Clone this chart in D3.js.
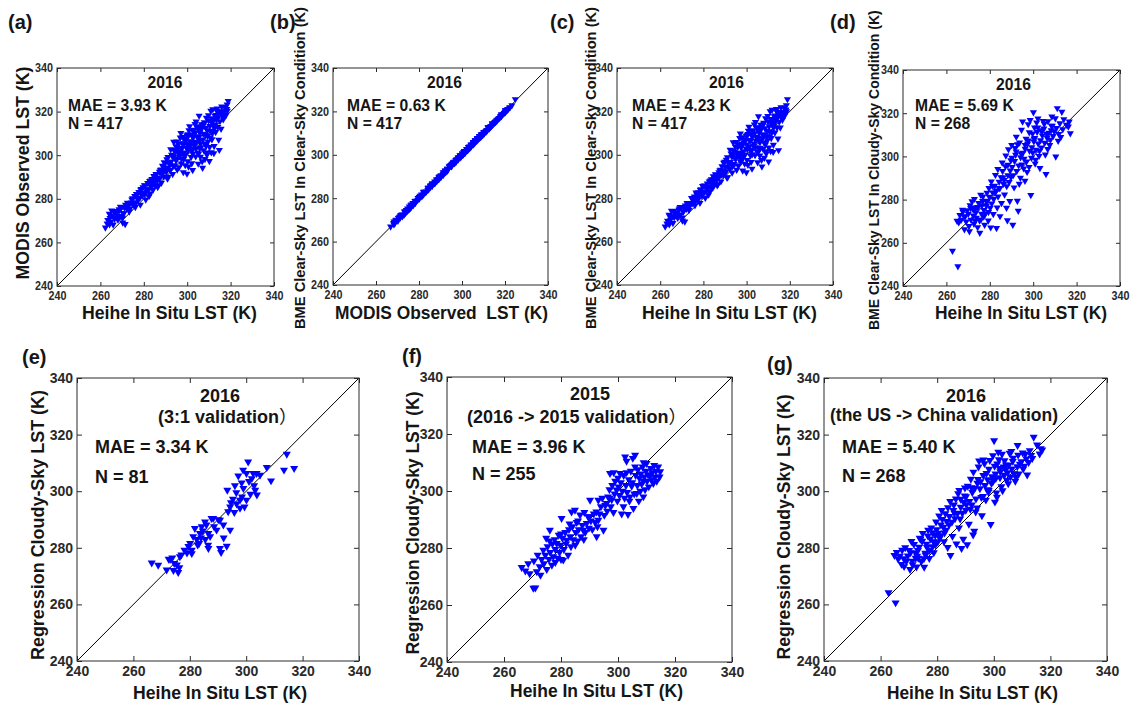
<!DOCTYPE html>
<html>
<head>
<meta charset="utf-8">
<script src="https://cdn.jsdelivr.net/npm/d3@7"></script>
<style>
  body { margin: 0; background: #fff; }
  svg { display: block; }
</style>
</head>
<body>
<svg id="fig" width="1131" height="706"></svg>
<script>
// ---------------- data ----------------
const axisDomain = [240, 340];
const tickValues = [240, 260, 280, 300, 320, 340];

// Clear-sky 2016 matchups (N = 417): in situ, MODIS and BME clear-sky LST (K)
const clearInSitu = [262.3,263.4,264.1,264.8,265.5,266.2,265.9,267.3,266.7,268.1,
  268.6,269.4,268.9,270.2,269.7,271.4,270.8,272.1,271.6,273.3,
  272.7,274.2,273.6,275.1,274.5,276.3,275.8,277.4,276.6,278.2,
  277.7,279.3,278.8,280.4,279.6,280.9,281.2,280.6,282.3,281.8,
  283.4,282.9,284.1,283.7,285.3,284.6,286.2,285.8,287.4,286.7,
  288.3,287.9,289.2,288.6,290.4,289.8,290.9,291.3,290.6,292.2,
  291.7,292.8,293.3,292.6,293.9,294.2,293.7,294.8,295.4,294.9,
  295.7,295.2,296.4,295.9,296.8,296.2,297.3,296.7,297.8,297.1,
  298.4,297.6,298.9,298.2,299.3,298.7,299.8,299.1,300.4,299.6,
  300.8,300.2,299.9,301.3,300.7,301.8,301.1,302.4,301.9,302.7,
  302.1,303.2,302.8,303.6,303.9,302.5,304.3,303.7,304.8,304.1,
  305.4,304.9,305.7,305.1,306.2,305.8,306.6,306.1,305.5,307.3,
  306.8,307.6,307.1,308.4,307.9,308.7,308.2,309.3,308.8,309.6,
  309.1,310.4,309.8,310.7,310.2,311.3,310.9,311.6,311.1,312.2,
  311.8,312.6,312.4,313.3,312.9,313.7,314.2,313.8,314.5,315.3,
  314.8,315.6,316.2,315.9,317.1,316.6,318.2,317.8,318.9,318.5,
  284.3,286.4,288.1,291.2,293.4,296.5,298.3,289.5,287.2,285.1,
  283.2,276.1,278.4,270.3,264.2,282.4,300.1,302.3,304.6,297.4,
  294.5,295.3,296.1,296.6,297.2,297.9,298.5,299.2,299.7,300.3,
  300.6,301.2,301.6,302.2,302.6,303.1,303.4,304.1,304.4,304.9,
  305.3,305.6,306.3,306.4,306.9,307.4,307.7,308.1,308.5,308.9,
  309.4,309.9,310.3,310.6,311.2,311.4,312.1,312.3,312.8,313.1,
  313.5,314.1,314.4,315.1,315.8,316.4,317.3,317.6,318.4,
  263.1,264.4,265.2,266.5,267.8,268.3,269.2,270.6,271.1,272.4,
  273.1,274.8,275.4,276.9,277.3,278.6,279.1,280.3,281.5,282.7,
  283.8,284.9,285.6,286.4,287.6,288.9,289.4,290.2,291.1,291.9,
  292.4,293.2,293.8];
const clearModis = [266.8,270.2,273.1,269.4,272.3,274.4,268.2,271.5,273.6,270.4,
  275.2,272.1,274.7,271.3,276.1,268.4,273.3,275.6,277.2,274.1,
  276.4,278.3,275.5,277.2,279.6,278.1,281.3,279.4,282.2,280.5,
  283.1,281.4,284.5,282.2,285.3,279.6,283.4,286.1,284.3,287.2,
  285.4,282.3,287.5,289.1,286.2,290.4,288.3,291.2,289.4,286.1,
  291.3,293.4,290.2,295.1,292.4,296.3,289.2,294.3,298.1,293.2,
  296.4,300.2,291.3,297.1,302.4,295.3,299.2,304.1,293.4,297.5,
  301.2,306.3,299.4,303.2,308.1,294.4,296.2,301.3,305.4,310.2,
  298.3,303.1,307.4,292.2,300.4,305.3,309.1,295.4,302.2,307.3,
  311.4,297.2,291.5,304.3,309.2,299.1,313.3,302.4,306.2,311.1,
  296.3,304.4,308.2,314.3,299.4,293.2,306.1,310.3,301.2,315.4,
  308.3,312.2,303.4,296.1,305.3,310.4,314.2,299.3,318.1,307.2,
  312.4,302.3,294.2,309.4,315.1,304.3,298.2,311.4,317.2,306.3,
  300.2,313.4,318.3,308.1,297.3,315.2,320.4,310.1,301.3,316.2,
  321.1,312.3,304.2,318.4,314.1,320.2,317.3,321.4,307.1,319.2,
  302.4,312.1,318.2,322.3,320.1,316.4,321.2,318.3,324.8,320.4,
  284.2,285.4,287.3,290.1,295.2,301.4,300.3,293.1,292.4,288.2,
  288.4,276.2,277.3,269.1,268.3,281.2,305.1,309.3,313.2,298.4,
  301.8,298.6,305.2,300.7,303.4,308.3,301.2,306.8,303.3,309.6,
  294.8,306.4,302.8,308.9,300.6,311.7,305.6,303.1,308.7,312.6,
  300.8,306.9,311.8,303.6,297.2,309.8,314.3,305.3,312.6,301.2,
  308.8,315.8,303.7,311.2,316.9,307.3,313.6,300.9,318.1,310.6,
  316.2,312.9,319.6,315.6,320.1,317.9,322.1,318.4,323.2,
  268.7,271.2,274.6,270.8,273.9,272.1,276.3,273.4,275.9,278.2,
  277.4,280.2,278.4,282.1,280.1,284.1,282.6,286.2,284.4,288.1,
  286.3,289.2,291.4,289.7,293.1,292.2,296.7,294.1,299.2,295.8,
  302.7,299.6,306.1];
const clearBme = [266.9,269.6,272.4,270.1,271.6,274.1,268.5,272.2,273.1,270.9,
  274.6,272.4,275.2,271.1,275.7,269.2,273.9,275.1,276.6,274.5,
  277.1,277.8,276.2,277.6,280.1,278.7,280.8,279.1,282.6,281.1,
  282.7,281.2,284.1,282.8,285.6,280.1,283.1,285.7,284.8,286.8,
  285.1,282.9,287.1,288.7,286.7,290.1,288.6,290.8,289.9,286.4,
  290.9,293.1,290.6,294.7,292.1,296.8,289.5,294.6,297.7,293.6,
  296.1,300.6,291.8,296.8,302.1,295.7,299.7,303.8,293.1,297.9,
  300.8,305.9,299.1,303.6,307.7,294.9,296.6,300.9,305.1,309.8,
  298.7,303.6,307.1,292.7,300.1,305.7,308.8,295.9,302.6,306.9,
  311.1,297.6,291.9,303.9,309.6,299.6,312.9,302.1,306.6,310.7,
  296.7,304.1,308.6,313.9,299.8,293.6,306.5,309.9,301.6,315.1,
  307.9,312.6,303.1,296.5,305.7,310.1,313.8,299.7,317.7,307.6,
  312.1,302.7,294.6,309.1,314.7,304.7,298.6,311.1,316.8,306.7,
  300.6,313.1,317.9,308.5,296.9,314.8,320.1,310.5,301.7,315.8,
  320.7,312.7,304.6,318.1,314.5,320.6,316.9,321.1,307.5,318.8,
  302.1,312.5,317.8,321.9,319.7,316.1,320.8,318.7,325.6,320.1,
  284.7,285.9,287.7,289.6,294.8,300.9,299.8,292.7,291.9,288.6,
  288.1,276.7,277.8,269.7,267.9,281.7,304.7,308.9,312.7,298.1,
  301.5,298.9,304.8,300.3,303.8,308.1,301.6,306.4,302.9,309.2,
  295.3,306.8,302.4,309.3,300.2,311.3,305.2,303.5,308.3,312.2,
  301.2,306.5,311.4,303.2,297.6,309.4,313.9,305.7,312.2,301.6,
  308.4,315.4,303.3,310.8,316.5,307.7,313.2,301.3,317.7,310.2,
  315.8,312.5,319.2,315.2,319.7,317.5,321.7,318.0,322.8,
  268.3,271.6,274.2,271.2,273.5,272.5,275.9,273.8,275.5,277.8,
  277.0,279.8,278.8,281.7,280.5,283.7,283.0,285.8,284.8,287.7,
  286.7,288.8,291.0,290.1,292.7,292.6,296.3,294.5,298.8,296.2,
  302.3,299.2,305.7];

// Cloudy-sky 2016 matchups (N = 268): in situ, BME clear-sky and regression cloudy-sky LST (K)
const cloudyInSitu = [262.8,265.3,264.9,266.2,265.7,267.4,266.8,268.3,267.6,269.1,
  268.7,270.4,269.6,270.9,271.3,270.6,272.4,271.8,272.7,273.2,
  273.8,272.9,274.4,273.6,274.9,275.3,274.7,275.8,275.4,276.2,
  276.7,275.9,277.3,276.8,277.6,278.4,277.9,278.7,279.3,278.8,
  279.6,280.2,279.8,280.7,280.4,281.3,280.9,281.6,282.2,281.8,
  282.6,283.4,282.9,283.7,283.1,284.3,283.8,284.7,285.2,284.6,
  285.7,285.4,286.3,285.9,286.8,287.2,286.6,287.7,287.4,288.3,
  287.8,288.6,288.1,289.4,288.9,289.7,289.2,290.3,289.8,290.6,
  290.1,291.4,290.8,291.7,291.2,292.4,291.9,292.7,292.2,293.3,
  292.8,293.6,293.1,294.2,293.7,294.6,294.1,295.3,294.8,295.6,
  295.1,296.3,295.8,296.7,296.2,297.4,296.9,297.7,297.2,298.3,
  297.8,298.6,298.1,299.4,298.9,299.7,299.2,300.3,299.8,300.6,
  300.1,300.9,301.2,300.7,301.6,301.1,302.3,301.8,302.7,302.2,
  303.4,302.9,303.7,303.1,304.2,303.8,304.6,305.3,304.9,305.6,
  305.1,306.4,305.9,306.7,307.2,306.8,307.6,308.3,307.9,308.6,
  309.2,308.8,310.4,309.7,310.2,311.1,310.7,311.5,312.3,311.8,
  313.2,312.7,314.1,313.6,315.3,316.2,317.1,316.6,
  268.2,270.1,271.2,272.4,273.3,274.1,276.4,277.2,278.3,279.4,
  281.2,282.4,284.2,286.1,288.3,290.2,292.1,294.4,296.3,298.2,
  300.4,302.1,304.3,306.2,308.4];
const cloudyBme = [256.3,249.1,270.2,272.8,269.4,275.3,270.6,266.2,274.4,269.8,
  272.3,267.7,275.1,277.4,270.7,265.3,272.6,279.2,268.8,276.3,
  271.6,280.3,267.2,274.1,278.4,270.3,276.5,282.2,264.6,273.4,
  279.3,270.8,275.2,281.4,268.3,277.1,273.4,283.2,270.3,279.1,
  285.3,276.2,281.3,288.4,267.1,283.3,278.2,273.3,286.4,280.2,
  291.4,276.3,284.2,294.1,266.8,288.2,281.4,272.3,290.3,285.2,
  297.1,278.4,287.3,293.2,282.3,295.4,289.1,276.2,300.4,291.3,
  286.2,303.3,270.4,293.4,288.1,298.2,279.3,295.1,290.4,268.3,
  305.2,297.8,291.3,303.9,285.6,293.2,300.7,279.4,309.1,295.8,
  305.6,287.3,274.8,299.6,306.4,312.3,290.1,301.7,296.2,294.4,
  316.1,303.5,298.9,308.2,288.7,305.8,297.6,314.9,292.8,302.6,
  307.3,316.8,295.1,304.2,282.1,310.6,299.3,306.9,301.8,313.4,
  320.4,296.7,303.1,308.5,315.7,298.4,305.9,311.3,300.2,317.5,
  307.4,302.6,311.8,294.6,309.7,304.1,316.4,306.3,312.9,300.8,
  315.1,308.6,291.8,303.4,310.9,316.3,305.2,312.1,307.7,318.4,
  309.4,314.2,299.9,311.6,317.6,322.3,313.1,307.2,315.3,310.4,
  320.6,308.9,317.2,312.5,314.6,313.8,310.7,316.1,
  272.2,273.4,276.1,275.3,270.2,276.4,277.3,272.1,279.4,274.2,
  286.3,283.1,285.4,290.2,296.1,299.3,302.2,301.4,305.3,311.1,
  308.2,313.3,312.1,310.4,314.2];
const cloudyRegression = [264.2,260.6,277.3,276.1,278.4,274.2,277.1,273.4,279.2,275.3,
  280.1,272.4,277.2,282.3,274.1,278.3,276.4,281.2,273.3,279.1,
  283.4,277.1,275.2,280.3,285.1,276.2,282.4,278.1,273.2,281.3,
  284.2,277.4,279.1,286.3,283.2,280.4,287.1,282.2,284.4,278.3,
  289.2,282.1,286.4,291.3,285.2,288.1,283.4,293.2,287.3,290.1,
  285.3,289.4,292.1,280.2,286.3,291.1,294.2,277.3,289.1,296.4,
  293.2,284.1,290.3,295.2,281.4,292.2,297.3,287.1,299.2,294.4,
  300.3,279.8,290.2,296.1,292.3,298.4,283.1,295.3,301.2,281.1,
  293.3,296.4,301.8,293.7,288.4,299.6,304.3,284.6,295.2,301.1,
  306.8,292.7,285.9,302.9,297.3,308.6,294.1,303.4,310.7,297.8,
  300.9,305.6,291.4,309.8,298.2,306.3,302.1,300.6,296.9,307.8,
  304.1,310.9,299.7,305.2,288.3,312.6,302.8,308.9,303.6,306.1,
  317.9,299.4,309.7,304.5,313.8,297.9,306.9,311.2,301.6,304.8,
  308.6,313.1,305.7,300.2,307.6,310.8,303.9,309.2,306.6,313.5,
  302.7,307.9,305.1,310.6,306.2,311.7,303.6,308.7,304.9,312.8,
  309.6,306.1,307.9,310.5,313.6,313.1,308.9,311.4,310.2,305.8,
  312.7,314.4,319.1,311.6,316.4,313.2,314.6,315.1,
  276.2,279.1,275.3,278.2,276.4,283.1,280.2,276.3,285.4,281.1,
  284.3,282.2,288.1,292.3,297.2,298.1,301.3,304.2,311.1,300.3,
  296.2,308.1,309.3,314.1,316.2];

// 3:1 split validation, 2016 (N = 81)
const split31InSitu = [266.5,268.8,271.8,273.0,273.8,274.5,275.4,275.9,276.3,276.5,
  278.1,279.0,280.1,280.7,280.7,281.2,281.8,282.5,282.8,283.3,
  283.6,284.2,284.6,285.4,285.9,286.5,286.6,286.6,287.2,287.7,
  288.3,289.5,290.1,290.7,290.7,291.1,291.9,293.1,293.3,293.6,
  294.3,294.3,294.6,295.3,296.0,296.5,297.2,297.8,297.8,298.4,
  298.5,299.0,299.4,300.1,300.1,300.7,301.0,301.5,302.0,302.5,
  303.2,303.7,303.8,304.9,307.3,308.8,313.4,314.4,317.0,284.0,
  279.5,277.0,272.5,295.8,298.9,296.6,288.6,292.0,274.2,302.8,
  285.5];
const split31Regression = [274.7,273.9,272.2,275.9,276.5,274.5,274.0,271.3,273.0,276.9,
  279.2,278.2,281.6,279.2,278.0,284.0,286.9,283.0,281.0,281.6,
  285.1,287.5,286.0,289.2,288.1,281.0,285.1,279.8,284.0,290.4,
  290.4,286.3,290.0,289.8,279.8,278.4,288.1,280.6,300.4,292.8,
  294.5,286.3,296.0,297.2,302.0,299.5,305.4,296.9,294.0,303.0,
  298.0,301.0,294.5,306.3,296.9,310.4,303.5,299.0,304.5,306.3,
  300.4,306.3,298.7,305.7,308.4,303.7,307.5,313.1,308.1,283.5,
  280.5,277.5,276.0,292.5,307.5,295.5,287.5,283.5,272.0,302.0,
  283.0];

// 2016 -> 2015 transfer validation (N = 255)
const year2015InSitu = [266.2,267.5,268.5,269.0,270.3,271.0,271.5,270.5,271.8,272.5,
  272.8,273.2,273.8,274.0,274.5,275.0,275.3,275.8,276.1,276.2,
  276.8,277.0,277.3,277.8,278.0,278.5,278.8,279.2,279.5,279.8,
  280.0,280.2,280.5,280.8,281.0,281.5,281.8,282.0,282.5,282.8,
  283.2,283.7,283.5,284.0,284.3,284.9,285.2,285.5,285.8,286.2,
  286.7,287.0,287.5,287.8,288.2,288.5,289.0,289.5,289.8,290.2,
  290.5,291.0,291.5,292.0,292.4,292.8,293.1,293.1,293.5,294.0,
  294.5,294.9,295.2,295.5,296.0,296.2,296.5,297.0,297.2,297.5,
  297.8,298.0,298.4,298.8,299.0,299.5,299.8,300.2,300.5,300.7,
  301.0,301.3,301.5,301.9,302.0,302.3,302.5,302.8,303.0,303.2,
  303.5,303.8,304.0,304.2,304.5,304.8,305.0,305.2,305.4,305.7,
  306.0,306.2,306.6,306.8,307.0,307.3,307.5,307.8,308.0,308.3,
  308.6,308.9,308.9,309.2,309.5,309.8,310.0,310.2,310.5,310.8,
  311.2,311.5,311.8,312.0,312.4,312.7,313.0,313.3,313.6,314.1,
  314.6,314.8,278.0,276.0,274.8,285.0,288.0,290.0,292.5,283.0,
  280.0,286.0,297.0,300.0,306.0,309.0,303.0,298.5];
const year2015Regression = [273.2,272.0,274.5,271.0,265.9,266.0,271.7,275.5,277.5,273.5,
  270.5,276.0,279.3,274.5,277.5,272.5,280.5,276.0,286.3,278.5,
  274.0,281.5,277.0,283.0,279.5,281.6,276.5,284.5,278.5,281.0,
  276.0,290.4,283.5,275.8,279.5,285.5,281.5,282.8,277.5,286.5,
  284.0,292.7,280.5,287.5,283.0,293.3,285.5,289.0,282.5,286.5,
  291.6,284.0,288.0,286.3,292.5,285.5,288.7,291.0,287.0,296.8,
  289.5,286.5,292.0,289.0,292.7,287.5,289.8,296.8,292.0,294.5,
  297.5,286.3,291.5,295.0,295.7,293.0,298.0,300.5,306.2,294.5,
  297.0,302.0,292.5,299.0,303.5,300.4,296.5,301.5,298.5,306.2,
  303.0,292.0,300.0,294.5,305.5,297.5,312.0,302.0,306.5,299.5,
  291.8,304.0,296.5,298.0,307.0,301.7,303.0,311.5,293.9,299.0,
  312.6,305.5,299.2,302.0,307.5,296.5,304.5,300.0,306.0,302.5,
  308.5,298.0,303.5,305.0,300.5,307.0,309.7,303.5,305.8,301.5,
  305.3,308.0,304.0,306.5,302.7,309.0,305.0,307.0,303.5,308.5,
  305.0,306.8,275.0,282.5,283.5,281.0,283.0,291.0,284.0,288.5,
  285.0,289.5,297.5,304.5,308.5,310.0,310.5,306.5];

// ---------------- layout ----------------
const FONT = '"Liberation Sans", Arial, Helvetica, sans-serif';
const INK = "#151515";
const MARK = "#0000ff";

const rowStyle = {
  top:    { tickFs: 12, tickSq: 0.9, tickLen: 4, padX: 5.5, padY: 4, innerFs: 17, innerSq: 0.92, labelFs: 18.5, letterFs: 20, marker: 22 },
  bottom: { tickFs: 14, tickSq: 1,   tickLen: 5, padX: 5,   padY: 4, innerFs: 18, innerSq: 1,    labelFs: 18,   letterFs: 20, marker: 28 }
};

const panels = [
  { key: "a", xs: clearInSitu, ys: clearModis, row: "top", box: [57, 68, 274, 286], letter: [8, 29],
    titles: [{ t: "2016", x: 165, y: 88, anchor: "middle" }],
    stats: { x: 68, y1: 111, y2: 129, mae: "MAE = 3.93 K", n: "N = 417" },
    xLabel: { t: "Heihe In Situ LST (K)", cx: 169.5, y: 319, len: 175 },
    yLabel: { t: "MODIS Observed LST (K)", cy: 173, x: 29, len: 213, fs: 18.5 } },
  { key: "b", xs: clearModis, ys: clearBme, row: "top", box: [333, 68, 548, 285], letter: [270, 29],
    titles: [{ t: "2016", x: 444.5, y: 88, anchor: "middle" }],
    stats: { x: 347, y1: 111, y2: 129, mae: "MAE = 0.63 K", n: "N = 417" },
    xLabel: { t: "MODIS Observed  LST (K)", cx: 441.5, y: 319, len: 213 },
    yLabel: { t: "BME Clear-Sky LST In Clear-Sky Condition (K)", cy: 168, x: 305, len: 322, fs: 14 } },
  { key: "c", xs: clearInSitu, ys: clearBme, row: "top", box: [617, 68, 833, 285], letter: [550, 29],
    titles: [{ t: "2016", x: 726.5, y: 88, anchor: "middle" }],
    stats: { x: 632, y1: 111, y2: 129, mae: "MAE = 4.23 K", n: "N = 417" },
    xLabel: { t: "Heihe In Situ LST (K)", cx: 729.5, y: 319, len: 175 },
    yLabel: { t: "BME Clear-Sky LST In Clear-Sky Condition (K)", cy: 168, x: 596, len: 322, fs: 14 } },
  { key: "d", xs: cloudyInSitu, ys: cloudyBme, row: "top", box: [903, 70, 1120, 286], letter: [830, 29],
    titles: [{ t: "2016", x: 1013.5, y: 90, anchor: "middle" }],
    stats: { x: 915, y1: 111, y2: 129, mae: "MAE = 5.69 K", n: "N = 268" },
    xLabel: { t: "Heihe In Situ LST (K)", cx: 1021, y: 319, len: 172 },
    yLabel: { t: "BME Clear-Sky LST In Cloudy-Sky Condition (K)", cy: 170, x: 879, len: 320, fs: 14 } },
  { key: "e", xs: split31InSitu, ys: split31Regression, row: "bottom", box: [77, 378, 359, 661], letter: [22, 364],
    titles: [{ t: "2016", x: 220, y: 402, anchor: "middle" },
             { t: "(3:1 validation", tail: "\uFF09", x: 158, y: 423, anchor: "start" }],
    stats: { x: 95, y1: 453, y2: 483, mae: "MAE = 3.34 K", n: "N = 81" },
    xLabel: { t: "Heihe In Situ LST (K)", cx: 220, y: 699, len: 174 },
    yLabel: { t: "Regression Cloudy-Sky LST (K)", cy: 525, x: 44, len: 270, fs: 18 } },
  { key: "f", xs: year2015InSitu, ys: year2015Regression, row: "bottom", box: [447, 377, 732, 662], letter: [402, 363],
    titles: [{ t: "2015", x: 590, y: 400, anchor: "middle" },
             { t: "(2016 -> 2015 validation", tail: "\uFF09", x: 467, y: 423, anchor: "start" }],
    stats: { x: 472, y1: 453, y2: 480, mae: "MAE = 3.96 K", n: "N = 255" },
    xLabel: { t: "Heihe In Situ LST (K)", cx: 596.5, y: 697, len: 173 },
    yLabel: { t: "Regression Cloudy-Sky LST (K)", cy: 523, x: 419, len: 263, fs: 18 } },
  { key: "g", xs: cloudyInSitu, ys: cloudyRegression, row: "bottom", box: [824, 378, 1107, 661], letter: [767, 371],
    titles: [{ t: "2016", x: 966, y: 402, anchor: "middle" },
             { t: "(the US -> China validation)", x: 830, y: 421, anchor: "start", len: 228 }],
    stats: { x: 842, y1: 453, y2: 482, mae: "MAE = 5.40 K", n: "N = 268" },
    xLabel: { t: "Heihe In Situ LST (K)", cx: 972.5, y: 699, len: 171 },
    yLabel: { t: "Regression Cloudy-Sky LST (K)", cy: 527, x: 790, len: 265, fs: 18 } }
];

const svg = d3.select("#fig");

// Places a bold text, optionally compressed to a given length or by a factor.
function placeText(parent, str, o) {
  const t = parent.append("text")
    .attr("x", 0).attr("y", o.y)
    .attr("font-family", FONT).attr("font-weight", "bold")
    .attr("font-size", o.fs).attr("fill", INK)
    .style("white-space", "pre")
    .text(str);
  if (o.tail) {
    t.append("tspan").attr("font-family", '"Noto Sans CJK SC", sans-serif')
      .attr("font-weight", "normal").text(o.tail);
  }
  const natural = t.node().getComputedTextLength();
  const L = o.len || natural * (o.sq || 1);
  if (Math.abs(L - natural) > 0.5) {
    t.attr("textLength", L.toFixed(1)).attr("lengthAdjust", "spacingAndGlyphs");
  }
  const anchor = o.anchor || "start";
  const x = anchor === "middle" ? o.x - L / 2 : anchor === "end" ? o.x - L : o.x;
  t.attr("x", x);
  return t;
}

function squeeze(sel, f) {
  if (f === 1) return;
  sel.each(function () {
    const w = this.getComputedTextLength();
    this.setAttribute("textLength", (w * f).toFixed(1));
    this.setAttribute("lengthAdjust", "spacingAndGlyphs");
  });
}

function drawPanel(p) {
  const st = rowStyle[p.row];
  const [x0, y0, x1, y1] = p.box;
  const x = d3.scaleLinear().domain(axisDomain).range([x0, x1]);
  const y = d3.scaleLinear().domain(axisDomain).range([y1, y0]);
  const g = svg.append("g").attr("class", "panel panel-" + p.key);

  // 1:1 line
  g.append("line")
    .attr("x1", x(axisDomain[0])).attr("y1", y(axisDomain[0]))
    .attr("x2", x(axisDomain[1])).attr("y2", y(axisDomain[1]))
    .attr("stroke", "#000").attr("stroke-width", 1);

  // downward triangle markers
  const tri = d3.symbol().type(d3.symbolTriangle).size(st.marker);
  g.append("g").selectAll("path")
    .data(d3.zip(p.xs, p.ys))
    .join("path")
    .attr("d", tri)
    .attr("transform", d => `translate(${x(d[0])},${y(d[1])}) rotate(180)`)
    .attr("fill", MARK);

  // axes with inward ticks on all four sides
  const styleAxis = a => a.attr("font-family", FONT).attr("font-size", st.tickFs)
    .attr("font-weight", "bold").attr("color", "#2a2a2a");
  const noLabel = () => "";
  const bottom = g.append("g").attr("transform", `translate(0,${y1})`)
    .call(d3.axisBottom(x).tickValues(tickValues).tickSizeInner(-st.tickLen).tickSizeOuter(0).tickPadding(st.padX))
    .call(styleAxis);
  const left = g.append("g").attr("transform", `translate(${x0},0)`)
    .call(d3.axisLeft(y).tickValues(tickValues).tickSizeInner(-st.tickLen).tickSizeOuter(0).tickPadding(st.padY))
    .call(styleAxis);
  g.append("g").attr("transform", `translate(0,${y0})`)
    .call(d3.axisTop(x).tickValues(tickValues).tickSizeInner(-st.tickLen).tickSizeOuter(0).tickFormat(noLabel))
    .call(styleAxis);
  g.append("g").attr("transform", `translate(${x1},0)`)
    .call(d3.axisRight(y).tickValues(tickValues).tickSizeInner(-st.tickLen).tickSizeOuter(0).tickFormat(noLabel))
    .call(styleAxis);
  g.selectAll(".domain").remove();
  g.selectAll(".tick line").attr("stroke-width", 1);
  squeeze(bottom.selectAll(".tick text"), st.tickSq);
  squeeze(left.selectAll(".tick text"), st.tickSq);

  // frame
  g.append("rect").attr("x", x0).attr("y", y0)
    .attr("width", x1 - x0).attr("height", y1 - y0)
    .attr("fill", "none").attr("stroke", "#2a2a2a").attr("stroke-width", 1);

  // in-plot annotations
  p.titles.forEach(t => placeText(g, t.t, { x: t.x, y: t.y, anchor: t.anchor, fs: st.innerFs, sq: st.innerSq, tail: t.tail, len: t.len }));
  placeText(g, p.stats.mae, { x: p.stats.x, y: p.stats.y1, fs: st.innerFs, sq: st.innerSq });
  placeText(g, p.stats.n, { x: p.stats.x, y: p.stats.y2, fs: st.innerFs, sq: st.innerSq });

  // axis titles
  placeText(g, p.xLabel.t, { x: p.xLabel.cx, y: p.xLabel.y, anchor: "middle", fs: st.labelFs, len: p.xLabel.len });
  const yl = g.append("g").attr("transform", `translate(${p.yLabel.x},${p.yLabel.cy}) rotate(-90)`);
  placeText(yl, p.yLabel.t, { x: 0, y: 0, anchor: "middle", fs: p.yLabel.fs, len: p.yLabel.len });

  // panel letter
  placeText(svg, `(${p.key})`, { x: p.letter[0], y: p.letter[1], fs: st.letterFs });
}

panels.forEach(drawPanel);
</script>
</body>
</html>
